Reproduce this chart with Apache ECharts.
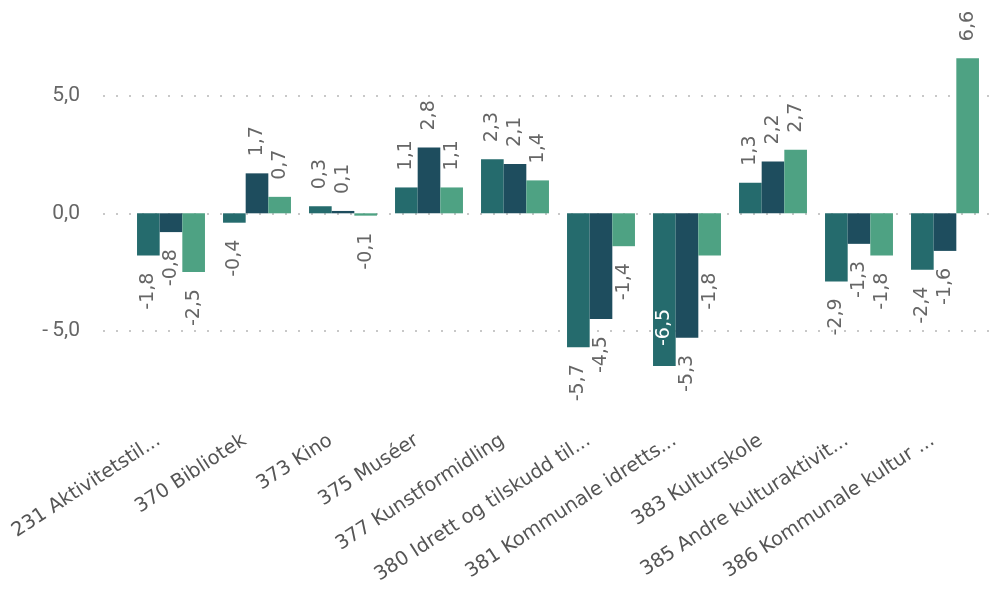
<!DOCTYPE html>
<html>
<head>
<meta charset="utf-8">
<script src="https://cdn.jsdelivr.net/npm/echarts@6/dist/echarts.min.js"></script>
<style>
  html, body { margin: 0; padding: 0; background: #fff; }
  #chart { width: 1004px; height: 595px; }
</style>
</head>
<body>
<div id="chart"></div>
<script>
// categories (truncated as in the source)
const categories = [
    '231 Aktivitetstil...',
    '370 Bibliotek',
    '373 Kino',
    '375 Muséer',
    '377 Kunstformidling',
    '380 Idrett og tilskudd til...',
    '381 Kommunale idretts...',
    '383 Kulturskole',
    '385 Andre kulturaktivit...',
    '386 Kommunale kultur ...'
];

const serieA = [-1.8, -0.4, 0.3, 1.1, 2.3, -5.7, -6.5, 1.3, -2.9, -2.4];
const serieB = [-0.8, 1.7, 0.1, 2.8, 2.1, -4.5, -5.3, 2.2, -1.3, -1.6];
const serieC = [-2.5, 0.7, -0.1, 1.1, 1.4, -1.4, -1.8, 2.7, -1.8, 6.6];

const yTicks = [-5, 0, 5];

const colors = ['#256b6d', '#1e4d5e', '#4ea283'];
const textGray = '#666666';

const fmt = v => v.toFixed(1).replace('.', ',');

// label placement: outside the bar end, rotated 90deg
function toData(values, insideIdx) {
    return values.map((v, i) => {
        if (insideIdx === i) {
            return { value: v, label: { position: 'insideBottom', align: 'left', color: '#ffffff', distance: 20 } };
        }
        return v >= 0
            ? { value: v, label: { position: 'top', align: 'left' } }
            : { value: v, label: { position: 'bottom', align: 'right' } };
    });
}

const labelBase = {
    show: true,
    rotate: 90,
    verticalAlign: 'middle',
    distance: 17,
    color: textGray,
    fontFamily: 'DejaVu Sans',
    fontSize: 19,
    formatter: p => fmt(p.value)
};

const chart = echarts.init(document.getElementById('chart'), null, { renderer: 'canvas' });

const option = {
    animation: false,
    grid: [
        // grid for dotted gridlines and y labels
        { left: 103, right: 6, top: 25.3, bottom: 146.7, outerBoundsMode: 'none' },
        // grid for bars
        { left: 128, right: 16, top: 25.3, bottom: 170.2, outerBoundsMode: 'none' }
    ],
    xAxis: [
        { gridIndex: 0, type: 'value', show: false, min: 0, max: 1 },
        {
            gridIndex: 1,
            type: 'category',
            data: categories,
            axisLine: { show: false },
            axisTick: { show: false },
            axisLabel: {
                interval: 0,
                rotate: 33,
                margin: 33,
                align: 'right',
                verticalAlign: 'bottom',
                padding: [0, 0, 12.5, 0],
                color: '#555555',
                fontFamily: 'DejaVu Sans',
                fontSize: 19.5
            }
        }
    ],
    yAxis: [
        {
            gridIndex: 0,
            type: 'value',
            min: -10,
            max: 8,
            interval: 5,
            axisLine: { show: false },
            axisTick: { show: false },
            axisLabel: {
                showMinLabel: false,
                showMaxLabel: false,
                margin: 23,
                color: textGray,
                fontFamily: 'Roboto',
                fontSize: 21,
                formatter: v => yTicks.includes(v) ? fmt(v).replace('-', '-\u2009') : ''
            },
            splitLine: {
                showMinLine: false,
                showMaxLine: false,
                lineStyle: { color: '#c8c8c8', width: 2, type: [2, 11] }
            }
        },
        { gridIndex: 1, type: 'value', min: -9, max: 8, show: false, splitLine: { show: false } }
    ],
    series: [
        {
            name: 'A', type: 'bar', xAxisIndex: 1, yAxisIndex: 1,
            barGap: 0, barCategoryGap: '21%',
            itemStyle: { color: colors[0] },
            label: labelBase,
            data: toData(serieA, 6)
        },
        {
            name: 'B', type: 'bar', xAxisIndex: 1, yAxisIndex: 1,
            barGap: 0, barCategoryGap: '21%',
            itemStyle: { color: colors[1] },
            label: labelBase,
            data: toData(serieB)
        },
        {
            name: 'C', type: 'bar', xAxisIndex: 1, yAxisIndex: 1,
            barGap: 0, barCategoryGap: '21%',
            itemStyle: { color: colors[2] },
            label: labelBase,
            data: toData(serieC)
        }
    ]
};

chart.setOption(option);
</script>
</body>
</html>
